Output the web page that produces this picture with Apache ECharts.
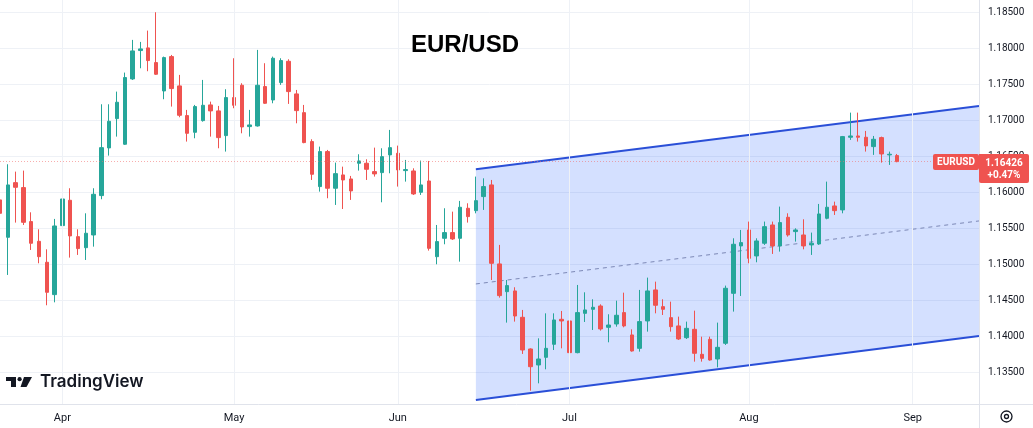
<!DOCTYPE html>
<html>
<head>
<meta charset="utf-8">
<script src="https://cdn.jsdelivr.net/npm/echarts@6.0.0/dist/echarts.min.js"></script>
<style>
    html, body { margin: 0; padding: 0; background: #fff; }
    #main { width: 1033px; height: 428px; }
</style>
</head>
<body>
<div id="main"></div>
<script>
// daily candles
let opens = [1.15894, 1.15375, 1.16134, 1.16065, 1.15593, 1.15319, 1.15028, 1.14579, 1.15537, 1.15889,
    1.15384, 1.15231, 1.15407, 1.15954, 1.16616, 1.17023, 1.16667, 1.17574, 1.17968, 1.18005,
    1.17801, 1.17407, 1.17884, 1.17477, 1.17065, 1.16833, 1.16995, 1.17213, 1.17130, 1.16787,
    1.17315, 1.17486, 1.16912, 1.16921, 1.17468, 1.17282, 1.17523, 1.17819, 1.17366, 1.17106,
    1.16704, 1.16079, 1.16565, 1.16056, 1.16241, 1.16185, 1.16403, 1.16403, 1.16287, 1.16273,
    1.16519, 1.16542, 1.16301, 1.16296, 1.16000, 1.16157, 1.15106, 1.15361, 1.15440, 1.15361,
    1.15778, 1.15745, 1.15940, 1.16102, 1.15005, 1.14620, 1.14630, 1.14264, 1.13824, 1.13602,
    1.13708, 1.13889, 1.14236, 1.14213, 1.13773, 1.14319, 1.14375, 1.14421, 1.14125, 1.14171,
    1.14329, 1.14019, 1.13833, 1.14213, 1.14644, 1.14412, 1.14259, 1.14144, 1.13981, 1.14097,
    1.13750, 1.13958, 1.13685, 1.13903, 1.14597, 1.15255, 1.15477, 1.15116, 1.15292, 1.15546,
    1.15255, 1.15653, 1.15454, 1.15407, 1.15269, 1.15282, 1.15639, 1.15810, 1.15755, 1.16764,
    1.16782, 1.16764, 1.16634, 1.16759, 1.16519, 1.16509];
let closes = [1.15708, 1.16102, 1.16069, 1.15583, 1.15292, 1.15106, 1.14611, 1.15532, 1.15907, 1.15394,
    1.15218, 1.15431, 1.15972, 1.16620, 1.16986, 1.17250, 1.17593, 1.17963, 1.17991, 1.17829,
    1.17639, 1.17870, 1.17440, 1.17069, 1.16819, 1.17190, 1.17208, 1.17130, 1.16759, 1.17315,
    1.17208, 1.16907, 1.16935, 1.17486, 1.17236, 1.17861, 1.17829, 1.17398, 1.17134, 1.16690,
    1.16250, 1.16565, 1.16056, 1.16259, 1.16171, 1.16019, 1.16435, 1.16319, 1.16255, 1.16495,
    1.16620, 1.16310, 1.16315, 1.15977, 1.16102, 1.15222, 1.15315, 1.15440, 1.15352, 1.15792,
    1.15662, 1.15884, 1.16079, 1.15014, 1.14565, 1.14704, 1.14282, 1.13810, 1.13578, 1.13685,
    1.13833, 1.14227, 1.14213, 1.13773, 1.14329, 1.14366, 1.14403, 1.14102, 1.14157, 1.14292,
    1.14144, 1.13796, 1.14204, 1.14630, 1.14431, 1.14375, 1.14134, 1.13963, 1.14111, 1.13764,
    1.13694, 1.13671, 1.13847, 1.14667, 1.15278, 1.15301, 1.15083, 1.15324, 1.15523, 1.15255,
    1.15579, 1.15407, 1.15477, 1.15255, 1.15292, 1.15699, 1.15792, 1.15745, 1.16773, 1.16782,
    1.16764, 1.16644, 1.16736, 1.16532, 1.16528, 1.16426];
let lows = [1.15639, 1.14852, 1.15579, 1.15546, 1.15199, 1.15014, 1.14431, 1.14472, 1.15523, 1.15093,
    1.15130, 1.15060, 1.15245, 1.15903, 1.16509, 1.16773, 1.16657, 1.17560, 1.17722, 1.17681,
    1.17630, 1.17292, 1.17190, 1.17042, 1.16704, 1.16750, 1.16981, 1.16773, 1.16611, 1.16565,
    1.17167, 1.16819, 1.16773, 1.16912, 1.17227, 1.17236, 1.17491, 1.17227, 1.16958, 1.16681,
    1.16171, 1.16009, 1.15917, 1.15824, 1.15768, 1.15894, 1.16301, 1.16171, 1.16218, 1.15861,
    1.16264, 1.16079, 1.16148, 1.15963, 1.15963, 1.15190, 1.15000, 1.15278, 1.15338, 1.15037,
    1.15579, 1.15708, 1.15755, 1.14782, 1.14537, 1.14190, 1.14204, 1.13755, 1.13245, 1.13347,
    1.13542, 1.13810, 1.13833, 1.13625, 1.13764, 1.14199, 1.14088, 1.14079, 1.13917, 1.14134,
    1.14125, 1.13787, 1.13787, 1.14065, 1.14319, 1.14296, 1.14065, 1.13949, 1.13963, 1.13648,
    1.13648, 1.13662, 1.13569, 1.13880, 1.14343, 1.14560, 1.15014, 1.15028, 1.15269, 1.15144,
    1.15176, 1.15384, 1.15315, 1.15208, 1.15130, 1.15269, 1.15625, 1.15685, 1.15708, 1.16727,
    1.16704, 1.16565, 1.16519, 1.16412, 1.16380, 1.16417];
let highs = [1.15963, 1.16389, 1.16287, 1.16301, 1.15722, 1.15486, 1.15208, 1.15630, 1.16273, 1.16056,
    1.15486, 1.15708, 1.16056, 1.17222, 1.17222, 1.17398, 1.17662, 1.18116, 1.18088, 1.18245,
    1.18500, 1.17884, 1.17907, 1.17630, 1.17144, 1.17213, 1.17560, 1.17259, 1.17199, 1.17431,
    1.17861, 1.17514, 1.17144, 1.17977, 1.17792, 1.17884, 1.17861, 1.17847, 1.17421, 1.17213,
    1.16736, 1.16634, 1.16588, 1.16412, 1.16356, 1.16227, 1.16528, 1.16458, 1.16620, 1.16611,
    1.16866, 1.16648, 1.16449, 1.16333, 1.16440, 1.16435, 1.15546, 1.15778, 1.15731, 1.15880,
    1.15847, 1.16218, 1.16194, 1.16171, 1.15269, 1.14782, 1.14681, 1.14366, 1.13833, 1.13972,
    1.14319, 1.14319, 1.14352, 1.14250, 1.14713, 1.14611, 1.14514, 1.14444, 1.14306, 1.14495,
    1.14606, 1.14097, 1.14644, 1.14815, 1.14759, 1.14514, 1.14481, 1.14273, 1.14204, 1.14356,
    1.13995, 1.13995, 1.14190, 1.14704, 1.15361, 1.15477, 1.15593, 1.15361, 1.15593, 1.15593,
    1.15801, 1.15708, 1.15500, 1.15625, 1.15440, 1.15838, 1.16148, 1.15870, 1.16782, 1.17106,
    1.17106, 1.16852, 1.16782, 1.16773, 1.16565, 1.16532];

// time axis in trading-day slots; month labels at their first day
let slotMax = 125.5;
let monthIdx = [8, 30, 51, 73, 96, 117];
let monthNames = ['Apr', 'May', 'Jun', 'Jul', 'Aug', 'Sep'];

// parallel channel (start/end slot, prices)
let channelX = [61, 125.5];
let channelUpper = [1.16319, 1.17199];
let channelMid = [1.14727, 1.15602];
let channelLower = [1.13115, 1.14004];

let lastPrice = 1.16426;
let changeText = '+0.47%';
let symbolName = 'EURUSD';

let upColor = '#26a69a';
let downColor = '#ef5350';
let textColor = '#131722';
let gridColor = '#eef1f6';

let candles = opens.map((o, i) => [i, o, closes[i], lows[i], highs[i]]);

let chart = echarts.init(document.getElementById('main'), null, { renderer: 'canvas' });

let option = {
    animation: false,
    backgroundColor: '#ffffff',
    grid: { left: 0, right: 54, top: 0, bottom: 24 },
    xAxis: {
        type: 'value',
        min: 0,
        max: slotMax,
        axisLine: { show: false },
        axisTick: { show: false },
        splitLine: { show: false },
        axisLabel: {
            customValues: monthIdx,
            formatter: v => monthNames[monthIdx.indexOf(v)] || '',
            color: textColor,
            fontSize: 11,
            fontFamily: 'Roboto',
            margin: 9
        }
    },
    yAxis: {
        type: 'value',
        position: 'right',
        min: 1.1306,
        max: 1.1867,
        splitNumber: 11,
        axisLine: { show: false },
        axisTick: { show: false },
        axisLabel: {
            formatter: v => v.toFixed(5),
            color: textColor,
            fontSize: 10,
            fontFamily: 'Roboto',
            margin: 9,
            showMinLabel: false,
            showMaxLabel: false
        },
        splitLine: {
            lineStyle: { color: gridColor },
            showMinLine: false,
            showMaxLine: false
        }
    },
    series: [{
        type: 'custom',
        silent: true,
        z: 1,
        data: [[channelX[0], channelLower[0]]],
        encode: { x: 0, y: 1 },
        renderItem: function (params, api) {
            let up = channelX.map((x, k) => api.coord([x, channelUpper[k]]));
            let lo = channelX.map((x, k) => api.coord([x, channelLower[k]]));
            let mid = channelX.map((x, k) => api.coord([x, channelMid[k]]));
            return {
                type: 'group',
                children: [{
                    type: 'polygon',
                    shape: { points: [up[0], up[1], lo[1], lo[0]] },
                    style: { fill: 'rgba(41,98,255,0.2)' }
                }, {
                    type: 'line',
                    shape: { x1: mid[0][0], y1: mid[0][1], x2: mid[1][0], y2: mid[1][1] },
                    style: { stroke: '#7c88b6', lineWidth: 1, lineDash: [4, 4] }
                }, {
                    type: 'line',
                    shape: { x1: up[0][0], y1: up[0][1], x2: up[1][0], y2: up[1][1] },
                    style: { stroke: '#2a4fd7', lineWidth: 2 }
                }, {
                    type: 'line',
                    shape: { x1: lo[0][0], y1: lo[0][1], x2: lo[1][0], y2: lo[1][1] },
                    style: { stroke: '#2a4fd7', lineWidth: 2 }
                }]
            };
        },
        markLine: {
            silent: true,
            symbol: ['none', 'none'],
            label: { show: false },
            lineStyle: { color: gridColor, type: 'solid', width: 1 },
            data: monthIdx.map(i => ({ xAxis: i }))
        }
    }, {
        type: 'candlestick',
        name: 'EURUSD',
        z: 3,
        barWidth: 4,
        dimensions: ['day', 'open', 'close', 'lowest', 'highest'],
        encode: { x: 0, y: [1, 2, 3, 4] },
        data: candles,
        itemStyle: {
            color: upColor,
            color0: downColor,
            borderColor: upColor,
            borderColor0: downColor,
            borderWidth: 1
        },
        markLine: {
            silent: true,
            precision: 5,
            symbol: ['none', 'none'],
            label: { show: false },
            data: [{
                yAxis: lastPrice,
                lineStyle: { color: '#f26c69', opacity: 0.55, type: [1, 2], width: 1 }
            }]
        }
    }]
};
chart.setOption(option);

// overlays: title, logo, borders, last price tag
let py = Math.round(chart.convertToPixel({ yAxisIndex: 0 }, lastPrice));
chart.setOption({
    graphic: [
        { type: 'line', shape: { x1: 979.5, y1: 0, x2: 979.5, y2: 428 }, style: { stroke: '#e0e3eb', lineWidth: 1 }, z: 10 },
        { type: 'line', shape: { x1: 0, y1: 404.5, x2: 1033, y2: 404.5 }, style: { stroke: '#e0e3eb', lineWidth: 1 }, z: 10 },
        {
            type: 'text', x: 465, y: 45,
            style: { text: 'EUR/USD', font: 'bold 24px "Liberation Sans", Arial', fill: '#000', align: 'center', verticalAlign: 'middle' },
            z: 10
        },
        // TradingView logo
        { type: 'polygon', shape: { points: [[6, 377], [16, 377], [16, 387], [11, 387], [11, 381], [6, 381]] }, style: { fill: textColor }, z: 10 },
        { type: 'circle', shape: { cx: 19.6, cy: 379.2, r: 2.1 }, style: { fill: textColor }, z: 10 },
        { type: 'polygon', shape: { points: [[24, 377], [32, 377], [26.5, 387], [20.5, 387]] }, style: { fill: textColor }, z: 10 },
        {
            type: 'text', x: 40, y: 382,
            style: { text: 'TradingView', font: '600 17px Inter, Roboto', fill: textColor, verticalAlign: 'middle' },
            z: 10
        },
        // settings icon
        { type: 'circle', shape: { cx: 1006.5, cy: 416.5, r: 5.5 }, style: { fill: 'none', stroke: textColor, lineWidth: 1.3 }, z: 10 },
        { type: 'circle', shape: { cx: 1006.5, cy: 416.5, r: 2 }, style: { fill: 'none', stroke: textColor, lineWidth: 1.3 }, z: 10 },
        // last price tag
        { type: 'rect', shape: { x: 933, y: py - 8, width: 46, height: 16, r: 2 }, style: { fill: downColor }, z: 20 },
        {
            type: 'text', x: 956, y: py,
            style: { text: symbolName, font: 'bold 10px Roboto', fill: '#fff', align: 'center', verticalAlign: 'middle' },
            z: 21
        },
        { type: 'rect', shape: { x: 979, y: py - 8, width: 50, height: 29, r: [0, 2, 2, 2] }, style: { fill: downColor }, z: 20 },
        {
            type: 'text', x: 1004, y: py + 1,
            style: { text: lastPrice.toFixed(5), font: 'bold 10px Roboto', fill: '#fff', align: 'center', verticalAlign: 'middle' },
            z: 21
        },
        {
            type: 'text', x: 1004, y: py + 13,
            style: { text: changeText, font: 'bold 10px Roboto', fill: '#fff', align: 'center', verticalAlign: 'middle' },
            z: 21
        }
    ]
});
</script>
</body>
</html>
